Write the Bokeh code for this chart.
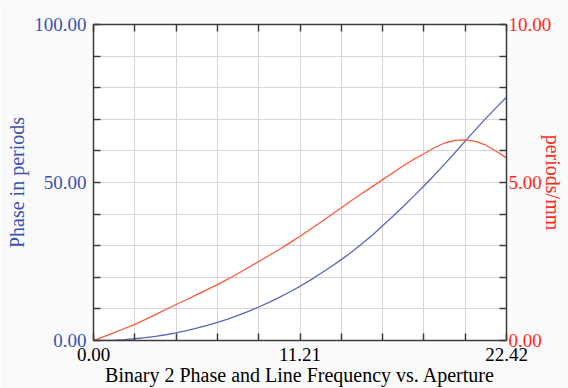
from bokeh.plotting import figure
from bokeh.models import (LinearAxis, Range1d, FixedTicker, CustomJSTickFormatter)
from bokeh.embed import file_html
from bokeh.resources import INLINE

# ---- data ----
aperture = [0.0, 0.5605, 1.121, 1.6815, 2.242, 2.8025, 3.363, 3.9235, 4.484, 5.0445,
            5.605, 6.1655, 6.726, 7.2865, 7.847, 8.4075, 8.968, 9.5285, 10.089, 10.6495,
            11.21, 11.7705, 12.331, 12.8915, 13.452, 14.0125, 14.573, 15.1335, 15.694,
            16.2545, 16.815, 17.3755, 17.936, 18.4965, 19.057, 19.6175, 20.178, 20.7385,
            21.299, 21.8595, 22.42]
phase = [0.0, 0.04, 0.14, 0.3, 0.55, 0.88, 1.3, 1.82, 2.4, 3.1,
         3.9, 4.8, 5.75, 6.8, 7.95, 9.2, 10.6, 12.05, 13.65, 15.35,
         17.15, 19.1, 21.2, 23.35, 25.6, 28.0, 30.6, 33.3, 36.3, 39.3,
         42.4, 45.6, 48.9, 52.3, 55.8, 59.4, 63.1, 66.75, 70.3, 73.7, 77.0]
freq = [0.0, 0.125, 0.25, 0.38, 0.51, 0.66, 0.82, 0.98, 1.14, 1.29,
        1.45, 1.61, 1.77, 1.94, 2.12, 2.31, 2.5, 2.69, 2.88, 3.09,
        3.3, 3.52, 3.74, 3.97, 4.2, 4.43, 4.65, 4.87, 5.09, 5.31,
        5.53, 5.73, 5.91, 6.1, 6.25, 6.33, 6.35, 6.3, 6.18, 5.99, 5.78]

x_ticks = [0.0, 2.242, 4.484, 6.726, 8.968, 11.21, 13.452, 15.694, 17.936, 20.178, 22.42]
phase_ticks = [0, 10, 20, 30, 40, 50, 60, 70, 80, 90, 100]
freq_ticks = [0, 1, 2, 3, 4, 5, 6, 7, 8, 9, 10]

title_text = "Binary 2 Phase and Line Frequency vs. Aperture"
left_label = "Phase in periods"
right_label = "periods/mm"

BLUE_LINE = "#5a66be"
RED_LINE = "#fb5a3c"
BLUE_TXT = "#3b52b0"
RED_TXT = "#ff2b1c"
AXIS_C = "#3c3c3c"
GRID_C = "#d9d5d5"
FONT = "Liberation Serif"

p = figure(width=568, height=388, output_backend="svg", toolbar_location=None,
           x_range=Range1d(0, 22.42), y_range=Range1d(0, 100),
           x_axis_location=None, y_axis_location=None,
           min_border_left=93, min_border_right=62, min_border_top=24, min_border_bottom=48,
           background_fill_color="white", border_fill_color="#fafafa")
p.outline_line_color = None
p.extra_y_ranges = {"freq": Range1d(0, 10)}

def every5():
    return CustomJSTickFormatter(code="return (index % 5 == 0) ? tick.toFixed(2) : '';")

def style_axis(ax, color, size="19px"):
    ax.axis_line_color = AXIS_C
    ax.axis_line_width = 1.5
    ax.major_tick_line_color = AXIS_C
    ax.major_tick_line_width = 1.5
    ax.major_tick_in = 7
    ax.major_tick_out = 0
    ax.minor_tick_line_color = None
    ax.major_label_text_font = FONT
    ax.major_label_text_font_size = size
    ax.major_label_text_color = color
    ax.axis_label_text_font = FONT
    ax.axis_label_text_font_size = "20px"
    ax.axis_label_text_font_style = "normal"
    ax.axis_label_text_color = color

left = LinearAxis(ticker=FixedTicker(ticks=phase_ticks), formatter=every5(),
                  axis_label=left_label)
style_axis(left, BLUE_TXT)
left.major_label_standoff = 7
left.axis_label_standoff = 3
p.add_layout(left, "left")

right = LinearAxis(y_range_name="freq", ticker=FixedTicker(ticks=freq_ticks), formatter=every5(),
                   axis_label=right_label)
style_axis(right, RED_TXT)
right.major_label_standoff = 2
right.axis_label_standoff = -12
p.add_layout(right, "right")

bottom = LinearAxis(ticker=FixedTicker(ticks=x_ticks), formatter=every5(),
                    axis_label=title_text)
style_axis(bottom, "black")
bottom.major_label_standoff = 7
bottom.axis_label_standoff = 0
p.add_layout(bottom, "below")

top = LinearAxis(ticker=FixedTicker(ticks=x_ticks),
                 formatter=CustomJSTickFormatter(code="return '';"))
style_axis(top, "black", size="1px")
top.major_label_standoff = 0
p.add_layout(top, "above")

p.xgrid.ticker = FixedTicker(ticks=x_ticks)
p.ygrid.ticker = FixedTicker(ticks=phase_ticks)
p.grid.grid_line_color = GRID_C
p.grid.grid_line_width = 1

p.line(aperture, phase, line_color=BLUE_LINE, line_width=1.3)
p.line(aperture, freq, y_range_name="freq", line_color=RED_LINE, line_width=1.3)

open("out.html", "w").write(file_html(p, INLINE))
